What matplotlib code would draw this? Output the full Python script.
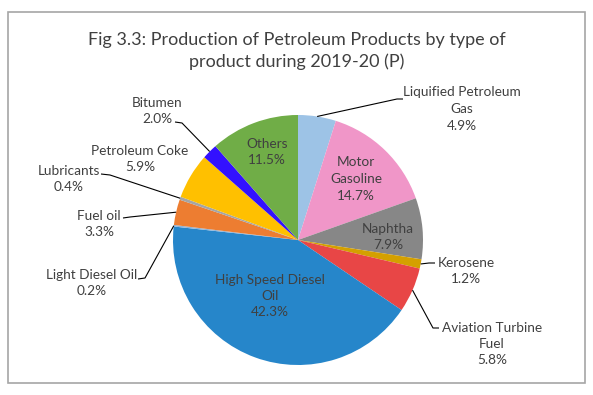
import numpy as np
import matplotlib
matplotlib.use("Agg")
import matplotlib.pyplot as plt
from matplotlib.patches import Rectangle

plt.rcParams["font.family"] = ["Lato", "DejaVu Sans"]

TEXT_COLOR = "#404040"

products = [
    "Liquified Petroleum\nGas", "Motor\nGasoline", "Naphtha", "Kerosene",
    "Aviation Turbine\nFuel", "High Speed Diesel\nOil", "Light Diesel Oil",
    "Fuel oil", "Lubricants", "Petroleum Coke", "Bitumen", "Others",
]
shares = [4.9, 14.7, 7.9, 1.2, 5.8, 42.3, 0.2, 3.3, 0.4, 5.9, 2.0, 11.5]
colors = [
    "#9dc3e6", "#f096c8", "#878787", "#d4a000", "#e84646", "#2686ca",
    "#8fb4d9", "#ed7d31", "#a5a5a5", "#ffc000", "#3311ff", "#70ad47",
]

# label block centres (pixels) and leader line points after the pie edge
label_pos = [
    (462, 109), (356, 179), (388, 237), (466, 271), (492, 344), (270, 296),
    (92, 283), (99, 224), (69, 179), (140, 159), (157, 111), (267, 152),
]
leaders = [
    [(397, 99), (403, 99)], None, None, [(429, 263), (435, 263)],
    [(433, 328), (439, 328)], None, [(145, 278), (138, 279)],
    [(130, 217), (123, 218)], [(110, 175), (101, 174)], None,
    [(182, 123), (175, 122)], None,
]

fig = plt.figure(figsize=(5.93, 3.95), dpi=100)
ax = fig.add_axes([0, 0, 1, 1])

# y axis runs downward, so counterclock in data is clockwise on screen
wedges, _ = ax.pie(
    shares,
    colors=colors,
    startangle=-90,
    counterclock=True,
    center=(298, 240),
    radius=125,
    frame=True,
)

ax.set_xlim(0, 593)
ax.set_ylim(395, 0)
ax.set_aspect("auto")
ax.axis("off")

for w, name, share, pos, lead in zip(wedges, products, shares, label_pos, leaders):
    ax.text(
        pos[0], pos[1], f"{name}\n{share:.1f}%",
        ha="center", va="center", fontsize=9.8,
        color=TEXT_COLOR, linespacing=1.45,
    )
    if lead is not None:
        mid = np.deg2rad((w.theta1 + w.theta2) / 2)
        start = (w.center[0] + w.r * np.cos(mid), w.center[1] + w.r * np.sin(mid))
        pts = [start] + lead
        ax.plot(
            [p[0] for p in pts], [p[1] for p in pts],
            color="black", lw=0.8, solid_capstyle="butt",
        )

ax.text(
    297, 51,
    "Fig 3.3: Production of Petroleum Products by type of\nproduct during 2019-20 (P)",
    ha="center", va="center", fontsize=13, color=TEXT_COLOR, linespacing=1.45,
)

ax.add_patch(Rectangle(
    (8, 12), 577, 371, fill=False, edgecolor="#a6a6a6", lw=1.2,
))

fig.savefig("out.png", dpi=100)
